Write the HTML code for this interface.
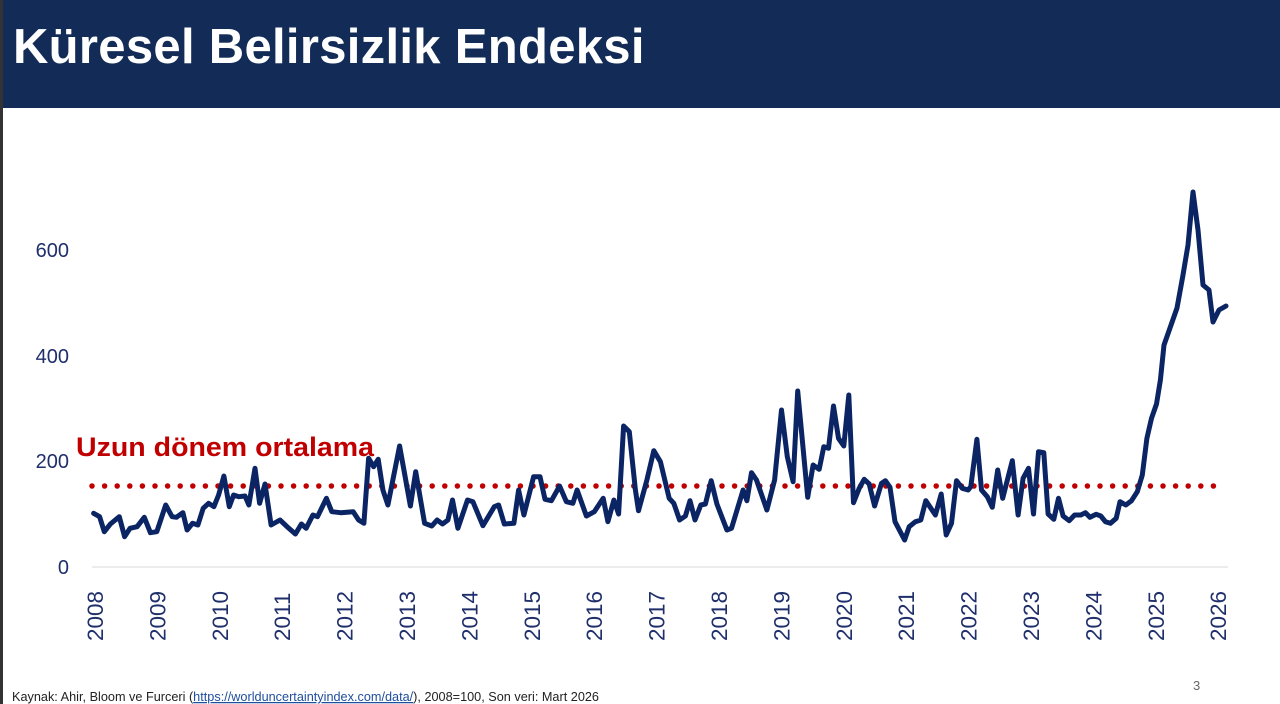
<!DOCTYPE html>
<html><head><meta charset="utf-8"><style>
html,body{margin:0;padding:0;background:#fff;}
body{width:1280px;height:704px;position:relative;overflow:hidden;font-family:"Liberation Sans",sans-serif;}
.hdr{position:absolute;left:3px;top:0;width:1277px;height:108px;background:#132c57;}
.edge{position:absolute;left:0;top:0;width:3px;height:704px;background:#333;}
.title{position:absolute;left:13px;top:19px;color:#fff;font-weight:bold;font-size:49px;letter-spacing:0.3px;}
</style></head><body>
<div class="edge"></div>
<div class="hdr"></div>
<div class="title">Küresel Belirsizlik Endeksi</div>
<svg width="1280" height="704" style="position:absolute;left:0;top:0">
<line x1="92" y1="567" x2="1228" y2="567" stroke="#d9d9d9" stroke-width="1"/>
<g font-size="20" fill="#1f2f6b" text-anchor="end" font-family="Liberation Sans, sans-serif">
<text x="69" y="574">0</text><text x="69" y="468">200</text><text x="69" y="363">400</text><text x="69" y="257">600</text>
</g>
<g id="yrs" font-size="22.5" fill="#1f2f6b" font-family="Liberation Sans, sans-serif"></g>
<line x1="92" y1="486" x2="1224" y2="486" stroke="#c00000" stroke-width="5.5" stroke-linecap="round" stroke-dasharray="0 12.6"/>
<text x="76" y="456" font-size="27" font-weight="bold" fill="#c00000" font-family="Liberation Sans, sans-serif" textLength="298" lengthAdjust="spacingAndGlyphs">Uzun dönem ortalama</text>
<polyline id="ln" fill="none" stroke="#0b2463" stroke-width="5" stroke-linejoin="round" stroke-linecap="round" points=""/>
<text x="1193" y="690" font-size="13" fill="#666">3</text>
<text x="12" y="701" font-size="12.5" fill="#222" textLength="587" lengthAdjust="spacingAndGlyphs">Kaynak: Ahir, Bloom ve Furceri (<tspan fill="#1f4e9c" text-decoration="underline">https://worlduncertaintyindex.com/data/</tspan>), 2008=100, Son veri: Mart 2026</text>
</svg>
<script>
var z1=[[38,400],[55,410],[68,455],[85,432],[110,410],[125,470],[140,445],[160,440],[180,412],[197,458],[215,455],[240,375],[258,410],[270,412],[288,398],[300,450],[315,430],[330,435],[345,385],[360,370],[375,380],[388,345],[403,288],[418,380],[430,345],[445,350],[462,348],[473,375],[490,265],[503,370],[518,312],[535,435],[560,420],[580,440],[603,462],[620,432],[633,445],[652,405],[665,410],[690,355],[705,395],[730,398],[765,395],[780,420],[795,430],[808,235],[822,260],[835,238],[848,330],[862,375],[895,198],[925,378],[940,275],[965,430],[985,438],[1000,420],[1015,432],[1030,420],[1043,360],[1058,445],[1085,360],[1100,365],[1128,437],[1160,380],[1172,375],[1188,432],[1215,430],[1228,330],[1243,405],[1270,290],[1288,290],[1302,358],[1320,362],[1343,318],[1362,365],[1380,370],[1392,330],[1418,408],[1440,395],[1465,355],[1478,425],[1495,360],[1508,402],[1522,138],[1538,155],[1555,330]];
var z2=[[48,392],[70,300],[88,212],[105,245],[128,355],[140,370],[155,420],[170,408],[182,362],[195,420],[210,375],[222,372],[237,302],[252,372],[278,450],[290,445],[320,330],[330,362],[342,278],[355,300],[382,390],[402,300],[420,90],[435,230],[450,305],[462,33],[488,352],[502,255],[518,268],[530,200],[542,205],[555,78],[568,175],[582,198],[595,45],[607,368],[622,325],[635,298],[648,312],[662,378],[680,310],[690,302],[702,322],[715,425],[740,480],[752,440],[768,425],[782,420],[795,362],[820,405],[835,342],[848,465],[862,430],[875,302],[890,325],[905,330],[912,320],[928,178],[940,330],[955,350],[968,382],[982,270],[995,355],[1020,242],[1035,405],[1048,295],[1062,265],[1075,402],[1088,215],[1102,218],[1113,402],[1128,418],[1140,355],[1152,408],[1168,422],[1182,405],[1198,405],[1210,398],[1222,412],[1238,403],[1250,408],[1262,425],[1275,430],[1290,415],[1300,365],[1315,375],[1330,362],[1345,335],[1358,285],[1370,175],[1382,115],[1395,72],[1405,0]];
var p=[];
z1.forEach(function(a){p.push((80+a[0]/2.8).toFixed(1)+','+(380+a[1]/3).toFixed(1));});
z2.forEach(function(a){p.push((620+a[0]/2.6).toFixed(1)+','+(380+a[1]/3).toFixed(1));});
[[1164,345],[1170,328],[1177,308],[1183,275],[1188,245],[1193,192],[1198,230],[1203,285],[1209,290],[1213,322],[1219,310],[1226,306]].forEach(function(a){p.push(a[0]+','+a[1]);});
document.getElementById('ln').setAttribute('points',p.join(' '));
var g=document.getElementById('yrs'),s='';
for(var i=0;i<=18;i++){var x=95+62.4*i+8;s+='<text transform="translate('+x.toFixed(1)+',641) rotate(-90)">'+(2008+i)+'</text>';}
g.innerHTML=s;
</script>
</body></html>
